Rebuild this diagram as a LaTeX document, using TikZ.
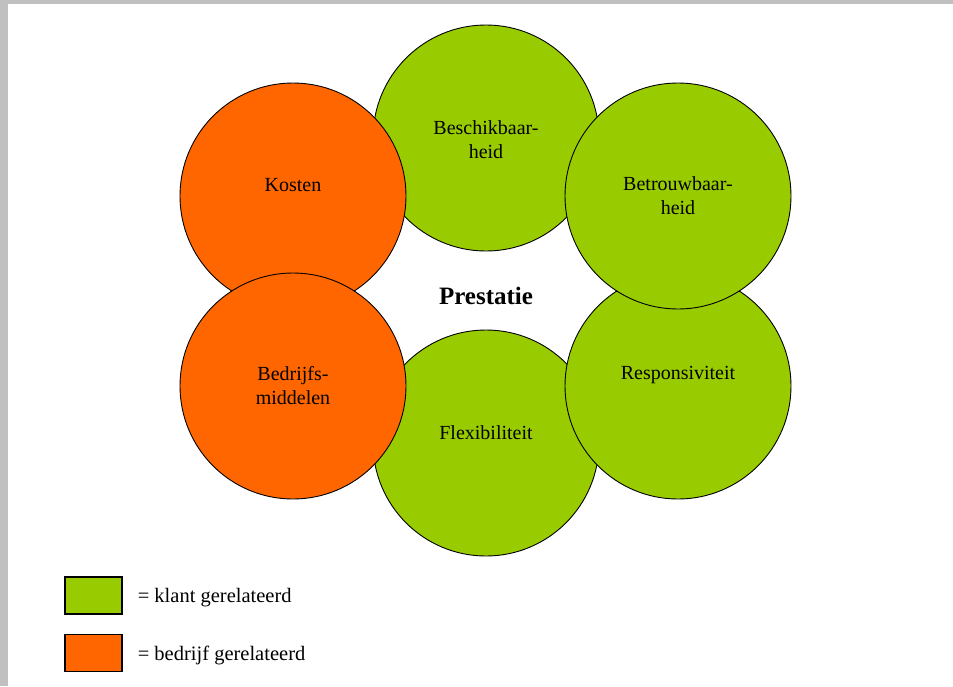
\documentclass[tikz,border=0pt]{standalone}
\usepackage{fontspec}
\setmainfont{Liberation Serif}
\usetikzlibrary{positioning}

\definecolor{klantgreen}{HTML}{99CC00}
\definecolor{bedrijforange}{HTML}{FF6600}
\definecolor{framegray}{HTML}{C0C0C0}

\tikzset{
  kpi/.style={circle, draw=black, line width=0.9pt, minimum size=226pt, inner sep=0pt},
  klant/.style={kpi, fill=klantgreen},
  bedrijf/.style={kpi, fill=bedrijforange},
  kpilabel/.style={align=center, font=\fontsize{20}{24}\selectfont, inner sep=0pt},
  legendbox/.style={draw=black, line width=1.2pt, minimum width=57pt, minimum height=37pt, inner sep=0pt},
  legendtext/.style={font=\fontsize{20.5}{24}\selectfont, inner sep=0pt}
}

\begin{document}
\begin{tikzpicture}[x=1pt,y=-1pt]

    % grey frame of the screenshot
    \fill[framegray] (0,0) rectangle (953,686);
    \fill[white] (8,4) rectangle (953,686);
    \useasboundingbox (0,0) rectangle (953,686);

    \node[klant] (beschik) at (486,138) {};
    \node[klant] (flex) at (486,443) {};
    \node[bedrijf] (kosten) at (293,196) {};
    \node[klant] (respons) at (678,386) {};
    \node[klant] (betrouw) at (678,196) {};
    \node[bedrijf] (middelen) at (293,386) {};

    \node[kpilabel] (beschik_txt) at ([yshift=-2pt]beschik.center) {Beschikbaar-\\heid};
    \node[kpilabel] (flex_txt) at ([yshift=10pt]flex.center) {Flexibiliteit};
    \node[kpilabel] (kosten_txt) at ([yshift=11pt]kosten.center) {Kosten};
    \node[kpilabel] (respons_txt) at ([yshift=11pt]respons.center) {Responsiviteit};
    \node[kpilabel] (betrouw_txt) at (betrouw.center) {Betrouwbaar-\\heid};
    \node[kpilabel] (middelen_txt) at (middelen.center) {Bedrijfs-\\middelen};

    \node[font=\bfseries\fontsize{25}{30}\selectfont, inner sep=0pt] (prestatie) at (486,296) {Prestatie};

    % legend
    \node[legendbox, fill=klantgreen] (klantbox) at (93.5,595.5) {};
    \node[legendbox, fill=bedrijforange] (bedrijfbox) at (93.5,653) {};
    \node[legendtext, right=15pt of klantbox, yshift=-2pt] (klanttxt) {= klant gerelateerd};
    \node[legendtext, right=15pt of bedrijfbox, yshift=-2pt] (bedrijftxt) {= bedrijf gerelateerd};

\end{tikzpicture}
\end{document}
